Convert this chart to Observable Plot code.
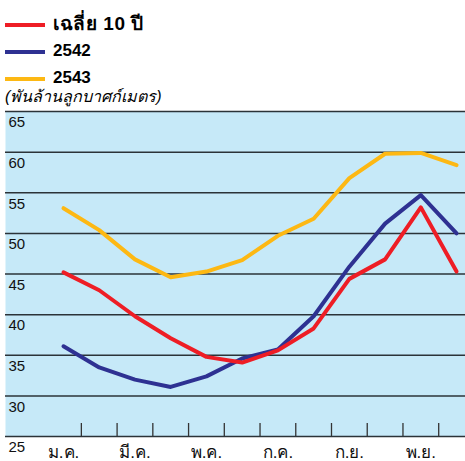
<!DOCTYPE html>
<html><head><meta charset="utf-8">
<script src="https://cdn.jsdelivr.net/npm/d3@7"></script>
<script src="https://cdn.jsdelivr.net/npm/@observablehq/plot@0.6"></script>
<style>
body{margin:0;background:#fff;font-family:"Liberation Sans",Arial,sans-serif;}
#wrap{position:relative;width:465px;height:461px;overflow:hidden;}
#legend{position:relative;height:100px;}
.sw{position:absolute;left:5px;width:40px;height:4px;}
.lt{position:absolute;left:53px;font-weight:bold;font-size:17px;line-height:20px;color:#000;}
#unit{position:absolute;left:5px;top:87px;font-style:italic;font-size:16px;line-height:20px;color:#000;}
</style></head>
<body><div id="wrap"><div id="legend"></div><div id="chart"></div></div>
<script>
const months = ["ม.ค.","ก.พ.","มี.ค.","เม.ย.","พ.ค.","มิ.ย.","ก.ค.","ส.ค.","ก.ย.","ต.ค.","พ.ย.","ธ.ค."];
const seriesNames = ["เฉลี่ย 10 ปี","2542","2543"];
const seriesColors = ["#ee1d25","#2e3192","#fdb813"];
const avg10 = [45.2,43.0,39.8,37.1,34.8,34.1,35.6,38.3,44.4,46.8,53.2,45.3];
const y2542 = [36.1,33.5,32.0,31.1,32.4,34.6,35.7,39.8,45.9,51.2,54.7,50.0];
const y2543 = [53.1,50.4,46.8,44.6,45.3,46.7,49.7,51.8,56.8,59.8,59.9,58.4];
const yTicks = [25,30,35,40,45,50,55,60,65];
const unitLabel = "(พันล้านลูกบาศก์เมตร)";

// legend
const leg = document.getElementById("legend");
const legTops = [25,52,79];
seriesNames.forEach((n,i)=>{
  const s=document.createElement("div");s.className="sw";s.style.top=(legTops[i]-2)+"px";s.style.background=seriesColors[i];leg.appendChild(s);
  const t=document.createElement("div");t.className="lt";t.style.top=(legTops[i]-11)+"px";t.textContent=n;
  if(i===0){t.style.fontSize="19px";t.style.letterSpacing="0.6px";}
  leg.appendChild(t);
});
const u=document.createElement("div");u.id="unit";u.textContent=unitLabel;leg.appendChild(u);

const data = [];
[avg10,y2542,y2543].forEach((arr,si)=>arr.forEach((v,i)=>data.push({series:seriesNames[si],m:i,v})));
const boundaries = d3.range(months.length-1).map(i=>i+0.5);
const labeled = months.map((m,i)=>({m,i})).filter(d=>d.i%2===0);

const chart = Plot.plot({
  width:465,height:361,
  marginLeft:5,marginRight:0,marginTop:11,marginBottom:25,
  x:{domain:[-1.623,11.25],axis:null},
  y:{domain:[25,65],axis:null},
  style:{fontFamily:"'Liberation Sans',Arial,sans-serif",background:"transparent"},
  marks:[
    Plot.frame({fill:"#c6e9f8",stroke:null}),
    Plot.ruleY(yTicks,{stroke:"#2b3338",strokeWidth:1.5}),
    Plot.ruleX(boundaries,{x:d=>d,y1:25,y2:26.6,stroke:"#333",strokeWidth:1.3}),
    Plot.text(yTicks,{x:-1.623,y:d=>d,text:d=>String(d),textAnchor:"start",dx:3,dy:11,fontSize:15,fill:"#111"}),
    Plot.text(labeled,{x:"i",y:25,text:"m",dy:16,fontSize:17,fill:"#111"}),
    Plot.line(data.filter(d=>d.series==="2542"),{x:"m",y:"v",stroke:seriesColors[1],strokeWidth:4}),
    Plot.line(data.filter(d=>d.series==="2543"),{x:"m",y:"v",stroke:seriesColors[2],strokeWidth:4}),
    Plot.line(data.filter(d=>d.series===seriesNames[0]),{x:"m",y:"v",stroke:seriesColors[0],strokeWidth:4})
  ]
});
document.getElementById("chart").appendChild(chart);
</script></body></html>
